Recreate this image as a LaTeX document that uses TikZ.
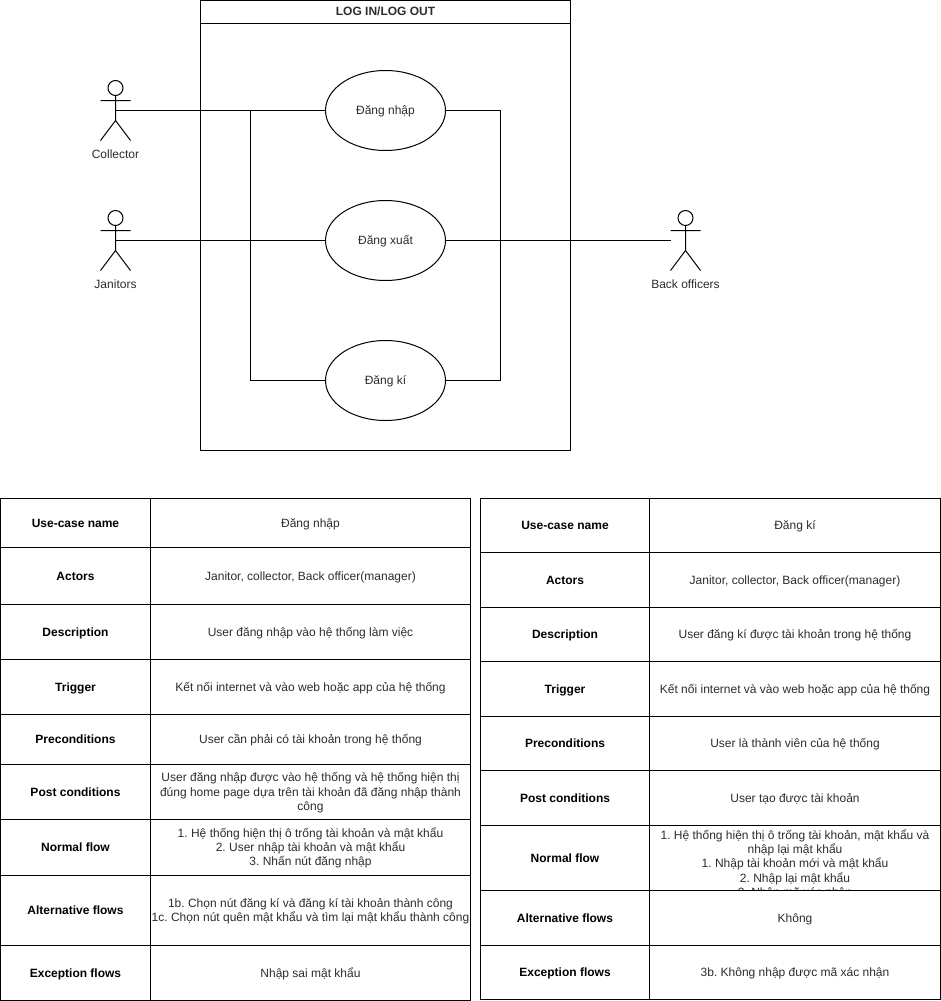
\documentclass[tikz,border=0pt]{standalone}
\usepackage{fontspec}
\setmainfont{Liberation Sans}
\usetikzlibrary{shapes.geometric}
\definecolor{inktext}{RGB}{45,45,45}
\frenchspacing
\newcommand{\tstrut}{\vrule height 11pt depth 3pt width 0pt\relax}
\tikzset{
  x=1pt,y=-1pt,
  every node/.style={outer sep=0pt},
  line/.style={draw=black,line width=1pt},
  usecase/.style={line,ellipse,minimum width=120pt,minimum height=80pt,inner sep=0pt,text=inktext,font=\fontsize{12}{14.4}\selectfont},
  cellbox/.style={line,rectangle,anchor=north west,inner sep=0pt,align=center,text=inktext,font=\fontsize{12}{14.4}\selectfont},
  headbox/.style={cellbox,text=black,font=\fontsize{12}{14.4}\selectfont\bfseries},
  caption/.style={text=inktext,inner sep=0pt,font=\fontsize{12}{14.4}\selectfont},
}
% \actorfig{name}{left}{top}{caption}
\newcommand{\actorfig}[4]{%
  \node[line,circle,minimum size=15pt,inner sep=0pt] (#1) at (#2+15,#3+7.5) {};
  \draw[line] (#1.south) -- (#2+15,#3+40) -- (#2,#3+60)
              (#2+15,#3+40) -- (#2+30,#3+60)
              (#2,#3+20) -- (#2+30,#3+20);
  \coordinate (#1c) at (#2+15,#3+30);
  \coordinate (#1l) at (#2,#3+30);
  \node[caption] (#1t) at (#2+15,#3+73.5) {\tstrut #4};
}
% \rowcells{name}{x0}{xmid}{x1}{y0}{y1}{label}{value}
\newcommand{\rowcells}[8]{%
  \node[headbox,minimum width=#3-#2 pt,minimum height=#6-#5 pt] (#1a) at (#2,#5) {\tstrut #7};
  \node[cellbox,minimum width=#4-#3 pt,minimum height=#6-#5 pt] (#1b) at (#3,#5) {\tstrut #8\tstrut};
}
\begin{document}
\begin{tikzpicture}
\useasboundingbox (0,0) rectangle (941,1001);
\fill[white] (0,0) rectangle (941,1001);
\begin{scope}[shift={(0.5,0.5)}]
% system boundary
\node[line,rectangle,anchor=north west,minimum width=370pt,minimum height=450pt,inner sep=0pt] (sys) at (200,0) {};
\node[line,rectangle,anchor=north west,minimum width=370pt,minimum height=23pt,inner sep=0pt,text=inktext,font=\fontsize{12}{14.4}\selectfont\bfseries] (systitle) at (200,0) {\tstrut LOG IN/LOG OUT};
% use cases
\node[usecase] (login) at (385,110) {\tstrut Đăng nhập};
\node[usecase] (logout) at (385,240) {\tstrut Đăng xuất};
\node[usecase] (register) at (385,380) {\tstrut Đăng kí};
% actors
\actorfig{collector}{100}{80}{Collector}
\actorfig{janitor}{100}{210}{Janitors}
\actorfig{officer}{670}{210}{Back officers}
% connectors
\coordinate (jl) at (250,110);
\coordinate (jb) at (250,380);
\coordinate (jr) at (500,110);
\coordinate (jq) at (500,380);
\draw[line] (collectorc) -- (login.west);
\draw[line] (janitorc) -- (logout.west);
\draw[line] (jl) -- (jb) -- (register.west);
\draw[line] (login.east) -- (jr) -- (jq) -- (register.east);
\draw[line] (logout.east) -- (officerl);
% left table
\rowcells{la}{0}{150}{470}{498}{547}{Use-case name}{Đăng nhập}
\rowcells{lb}{0}{150}{470}{547}{604}{Actors}{Janitor, collector, Back officer(manager)}
\rowcells{lc}{0}{150}{470}{604}{659}{Description}{User đăng nhập vào hệ thống làm việc}
\rowcells{ld}{0}{150}{470}{659}{714}{Trigger}{Kết nối internet và vào web hoặc app của hệ thống}
\rowcells{le}{0}{150}{470}{714}{764}{Preconditions}{User cần phải có tài khoản trong hệ thống}
\rowcells{lf}{0}{150}{470}{764}{819}{Post conditions}{User đăng nhập được vào hệ thống và hệ thống hiện thị\\đúng home page dựa trên tài khoản đã đăng nhập thành\\công}
\rowcells{lg}{0}{150}{470}{819}{875}{Normal flow}{1. Hệ thống hiện thị ô trống tài khoản và mật khẩu\\2. User nhập tài khoản và mật khẩu\\3. Nhấn nút đăng nhập}
\rowcells{lh}{0}{150}{470}{875}{945}{Alternative flows}{1b. Chọn nút đăng kí và đăng kí tài khoản thành công\\1c. Chọn nút quên mật khẩu và tìm lại mật khẩu thành công}
\rowcells{li}{0}{150}{470}{945}{1000}{Exception flows}{Nhập sai mật khẩu}
% right table
\rowcells{ra}{480}{649}{940}{498}{552}{Use-case name}{Đăng kí}
\rowcells{rb}{480}{649}{940}{552}{607}{Actors}{Janitor, collector, Back officer(manager)}
\rowcells{rc}{480}{649}{940}{607}{661}{Description}{User đăng kí được tài khoản trong hệ thống}
\rowcells{rd}{480}{649}{940}{661}{716}{Trigger}{Kết nối internet và vào web hoặc app của hệ thống}
\rowcells{re}{480}{649}{940}{716}{770}{Preconditions}{User là thành viên của hệ thống}
\rowcells{rf}{480}{649}{940}{770}{825}{Post conditions}{User tạo được tài khoản}
\rowcells{rg}{480}{649}{940}{825}{890}{Normal flow}{}
\begin{scope}
\clip (650,826) rectangle (939,889.5);
\node[anchor=north,inner sep=0pt,align=center,text=inktext,font=\fontsize{12}{14.2}\selectfont] (rgtext) at (794.5,828) {\tstrut 1. Hệ thống hiện thị ô trống tài khoản, mật khẩu và\\nhập lại mật khẩu\\1. Nhập tài khoản mới và mật khẩu\\2. Nhập lại mật khẩu\\3. Nhập mã xác nhận};
\end{scope}
\rowcells{rh}{480}{649}{940}{890}{945}{Alternative flows}{Không}
\rowcells{ri}{480}{649}{940}{945}{999}{Exception flows}{3b. Không nhập được mã xác nhận}
\end{scope}
\end{tikzpicture}
\end{document}
